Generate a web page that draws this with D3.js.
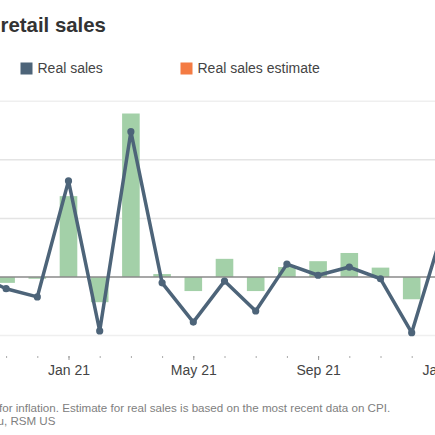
<!DOCTYPE html>
<html>
<head>
<meta charset="utf-8">
<script src="https://cdn.jsdelivr.net/npm/d3@7"></script>
<style>
    body{margin:0;background:#fff;}
    svg{display:block;font-family:"Liberation Sans",Arial,sans-serif;}
</style>
</head>
<body>
<div id="chart"></div>
<script>
// month labels, Oct 20 .. Jan 22
var months=["Oct 20","Nov 20","Dec 20","Jan 21","Feb 21","Mar 21","Apr 21","May 21",
    "Jun 21","Jul 21","Aug 21","Sep 21","Oct 21","Nov 21","Dec 21","Jan 22"];
// green bars (series label cut off in the picture)
var barValues=[null,-0.10,-0.03,1.38,-0.43,2.79,0.05,-0.24,0.31,-0.24,0.17,0.27,0.41,0.16,-0.38,null];
// real sales, month over month
var realSales=[0.05,-0.20,-0.34,1.64,-0.92,2.48,-0.10,-0.77,-0.07,-0.58,0.22,0.03,0.17,-0.03,-0.95,0.80];
var yTicks=[-1,0,1,2,3];
var labelTicks=["Jan 21","May 21","Sep 21","Jan 22"];
var legendItems=[{name:"Real sales",color:"#4d6479"},{name:"Real sales estimate",color:"#f47b43"}];

var W=435,H=435;
var svg=d3.select("#chart").append("svg").attr("width",W).attr("height",H);

// chart is cut on the left, so the range starts off screen
var x=d3.scalePoint().domain(months).range([-25.1,442.9]);
var y=d3.scaleLinear().domain([-1,3]).range([335.6,101.2]);
var barW=17.6;

// title
svg.append("text")
    .attr("x",0.5).attr("y",32)
    .attr("font-size",20.4).attr("font-weight","bold").attr("fill","#333")
    .text("retail sales");

// legend
var legend=svg.selectAll(".legend").data(legendItems).enter().append("g")
    .attr("transform",function(d,i){return "translate("+(20.5+i*160)+",62.5)";});
legend.append("rect").attr("width",12).attr("height",12).attr("fill",function(d){return d.color;});
legend.append("text").attr("x",17).attr("y",10.5)
    .attr("font-size",14).attr("fill","#444")
    .text(function(d){return d.name;});

// grid
svg.append("g").selectAll("line").data(yTicks.filter(function(v){return v!==0;})).enter().append("line")
    .attr("x1",0).attr("x2",W)
    .attr("y1",function(d){return y(d);}).attr("y2",function(d){return y(d);})
    .attr("stroke",function(d){return (d===3||d===-1)?"#efefef":"#e4e4e4";})
    .attr("stroke-width",1.5);

// bars
svg.append("g").selectAll("rect")
    .data(months.map(function(m,i){return {m:m,v:barValues[i]};}).filter(function(d){return d.v!==null;}))
    .enter().append("rect")
    .attr("x",function(d){return x(d.m)-barW/2;})
    .attr("width",barW)
    .attr("y",function(d){return y(Math.max(0,d.v));})
    .attr("height",function(d){return Math.abs(y(d.v)-y(0));})
    .attr("fill","#a3d0a8");

// zero line
svg.append("line")
    .attr("x1",0).attr("x2",W).attr("y1",y(0)).attr("y2",y(0))
    .attr("stroke","#8a8a8a").attr("stroke-width",1.5);

// real sales line
var pts=months.map(function(m,i){return {m:m,v:realSales[i]};});
var line=d3.line().x(function(d){return x(d.m);}).y(function(d){return y(d.v);});
svg.append("path").datum(pts)
    .attr("d",line).attr("fill","none")
    .attr("stroke","#4d6479").attr("stroke-width",3.5).attr("stroke-linejoin","round");
svg.append("g").selectAll("circle").data(pts).enter().append("circle")
    .attr("cx",function(d){return x(d.m);}).attr("cy",function(d){return y(d.v);})
    .attr("r",3.6).attr("fill","#4d6479");

// x axis: minor monthly ticks, major ticks with labels
var minorAxis=d3.axisBottom(x).tickSize(2).tickFormat("");
var gMinor=svg.append("g").attr("transform","translate(0,356)").call(minorAxis);
gMinor.select(".domain").remove();
gMinor.selectAll("line").attr("stroke","#aaa");

var majorAxis=d3.axisBottom(x).tickValues(labelTicks).tickSize(4).tickPadding(5);
var gMajor=svg.append("g").attr("transform","translate(0,356)").call(majorAxis);
gMajor.select(".domain").remove();
gMajor.selectAll("line").attr("stroke","#999");
gMajor.selectAll("text").attr("font-size",14).attr("fill","#444")
    .attr("font-family","Liberation Sans, Arial, sans-serif");

// footnote (cut on the left)
svg.append("text").attr("x",-1).attr("y",412)
    .attr("font-size",11.6).attr("fill","#808080")
    .text(" for inflation. Estimate for real sales is based on the most recent data on CPI.");
svg.append("text").attr("x",-2.5).attr("y",425)
    .attr("font-size",11.6).attr("fill","#808080")
    .text("u, RSM US");
</script>
</body>
</html>
